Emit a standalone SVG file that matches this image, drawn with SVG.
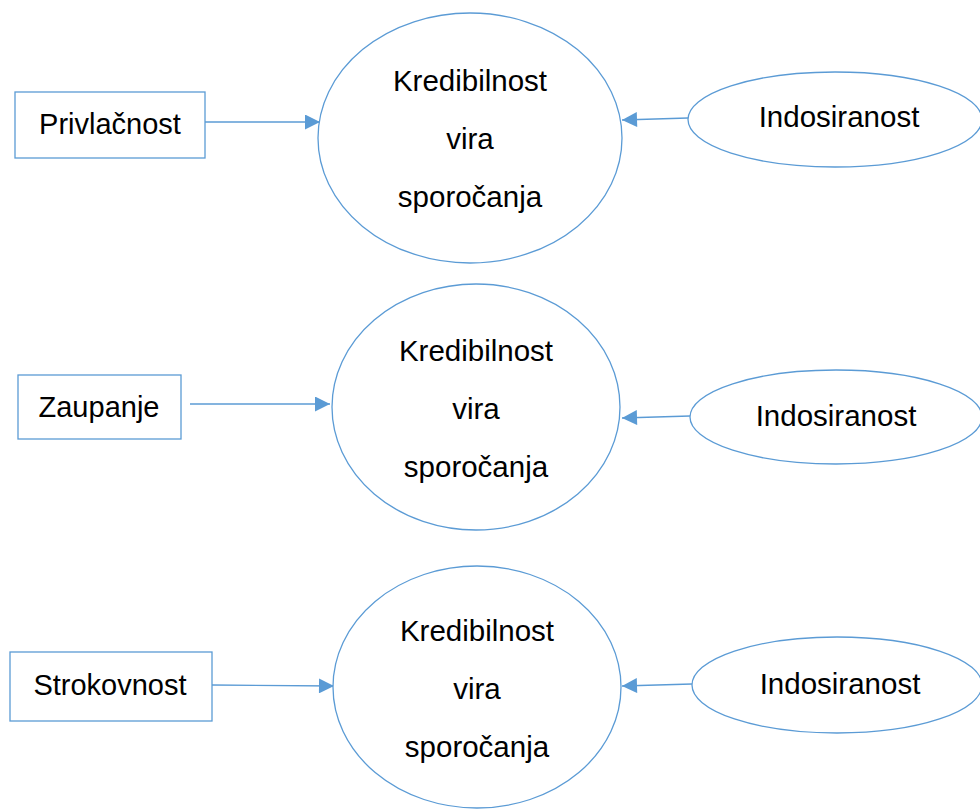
<svg xmlns="http://www.w3.org/2000/svg" width="980" height="810" viewBox="0 0 980 810">
<style>
.s{fill:#fff;stroke:#5B9BD5;stroke-width:1.3}
.c{fill:none;stroke:#5B9BD5;stroke-width:1.3}
text{font-family:"Liberation Sans",Arial,sans-serif;font-size:29.5px;fill:#000;text-anchor:middle}
text.b{font-size:29px}
</style>
<defs>
<marker id="ah" viewBox="0 0 10 10" refX="10" refY="5" markerWidth="16" markerHeight="15" markerUnits="userSpaceOnUse" orient="auto">
<path d="M0,0 L10,5 L0,10 Z" fill="#5B9BD5"/>
</marker>
</defs>
<rect width="980" height="810" fill="#fff"/>
<g id="connectors">
<line class="c" x1="205" y1="122" x2="320" y2="122" marker-end="url(#ah)"/>
<line class="c" x1="688" y1="118" x2="622" y2="120" marker-end="url(#ah)"/>
<line class="c" x1="190" y1="404" x2="330" y2="404" marker-end="url(#ah)"/>
<line class="c" x1="690" y1="416" x2="622" y2="418" marker-end="url(#ah)"/>
<line class="c" x1="212" y1="685" x2="334" y2="686" marker-end="url(#ah)"/>
<line class="c" x1="692" y1="684" x2="622" y2="686" marker-end="url(#ah)"/>
</g>
<g id="privlacnost">
<rect class="s" x="15" y="92" width="190" height="66"/>
<text class="b" x="110" y="134">Privlačnost</text>
</g>
<g id="kred1">
<ellipse class="s" cx="470" cy="138" rx="152" ry="125"/>
<text x="470" y="91">Kredibilnost</text>
<text x="470" y="149">vira</text>
<text x="470" y="207">sporočanja</text>
</g>
<g id="indo1">
<ellipse class="s" cx="835" cy="119.5" rx="147" ry="47.5"/>
<text x="839" y="127">Indosiranost</text>
</g>
<g id="zaupanje">
<rect class="s" x="18" y="375" width="163" height="64"/>
<text class="b" x="99" y="417">Zaupanje</text>
</g>
<g id="kred2">
<ellipse class="s" cx="476" cy="407" rx="144" ry="123"/>
<text x="476" y="361">Kredibilnost</text>
<text x="476" y="419">vira</text>
<text x="476" y="477">sporočanja</text>
</g>
<g id="indo2">
<ellipse class="s" cx="836" cy="417" rx="146" ry="47"/>
<text x="836" y="426">Indosiranost</text>
</g>
<g id="strokovnost">
<rect class="s" x="10" y="652" width="202" height="69"/>
<text class="b" x="110" y="695">Strokovnost</text>
</g>
<g id="kred3">
<ellipse class="s" cx="477" cy="687" rx="144" ry="121"/>
<text x="477" y="641">Kredibilnost</text>
<text x="477" y="699">vira</text>
<text x="477" y="757">sporočanja</text>
</g>
<g id="indo3">
<ellipse class="s" cx="837" cy="685" rx="145" ry="48"/>
<text x="840" y="694">Indosiranost</text>
</g>
</svg>
